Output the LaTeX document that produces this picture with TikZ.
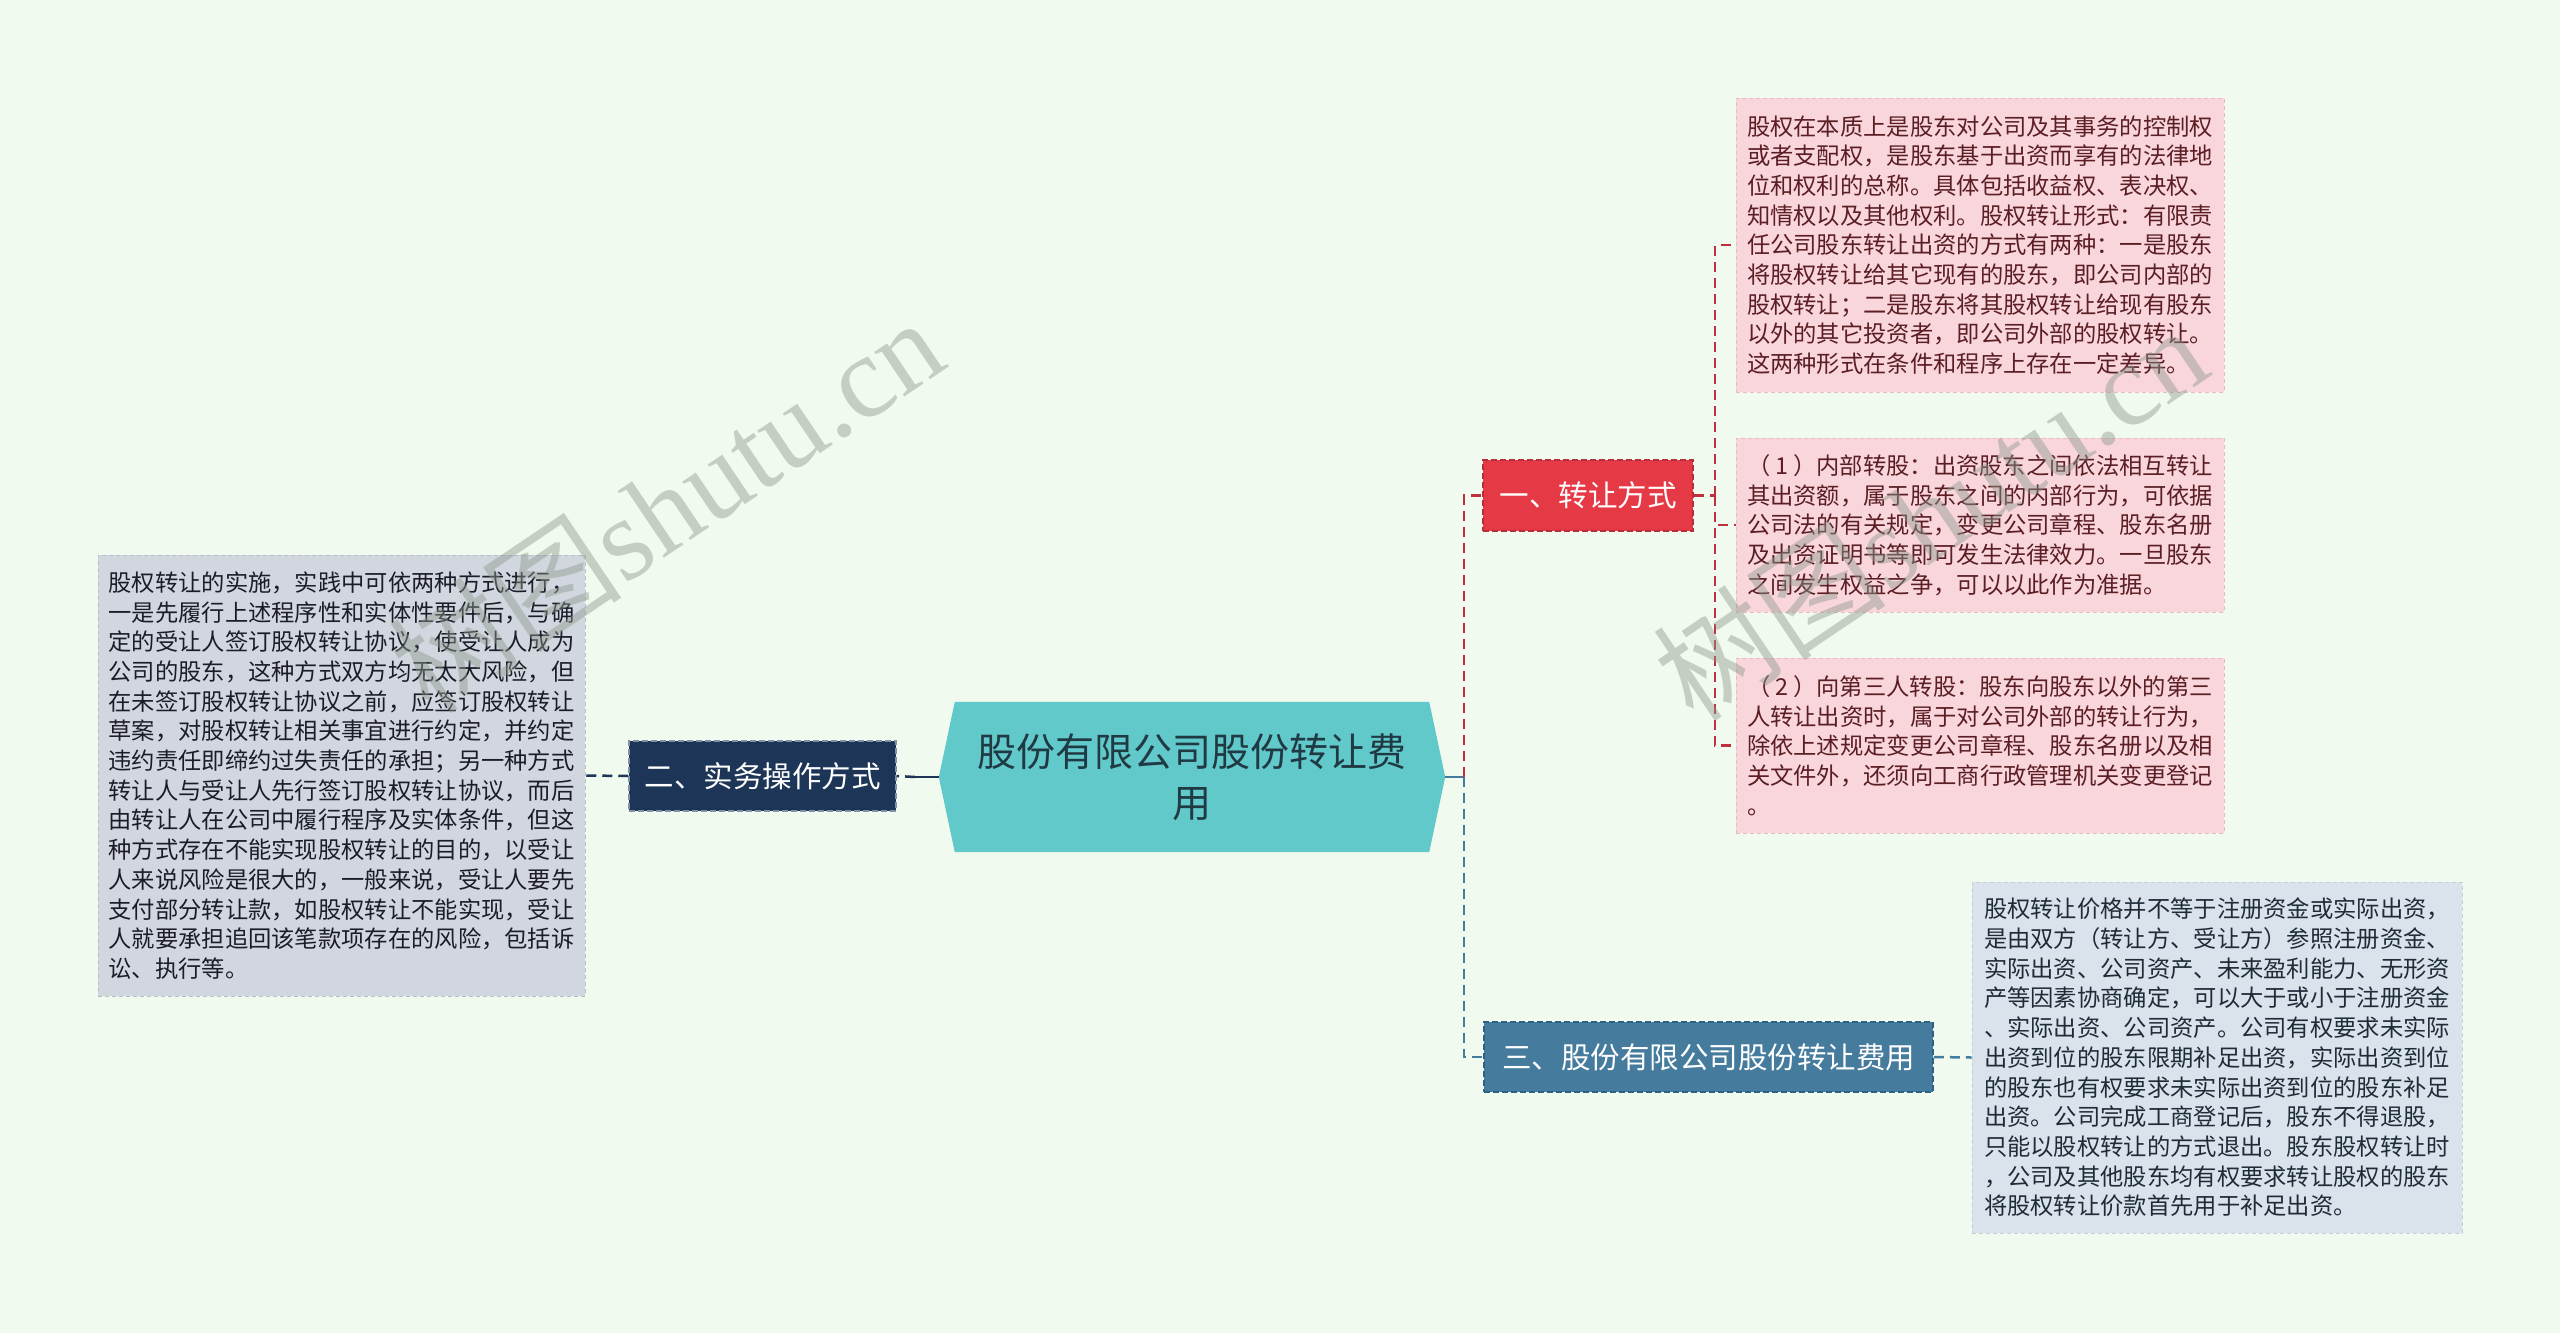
\documentclass[tikz,border=0pt]{standalone}
\usepackage{fontspec}
\setmainfont{Noto Sans CJK SC}
\newfontfamily\wmfont{Liberation Serif}
\usetikzlibrary{calc}
\pgfdeclarelayer{background}
\pgfsetlayers{background,main}
\definecolor{bg}{HTML}{F1FAEE}
\definecolor{rootfill}{HTML}{62C9CB}
\definecolor{roottext}{HTML}{203A44}
\definecolor{redfill}{HTML}{E63946}
\definecolor{rededge}{HTML}{B52E3A}
\definecolor{navyfill}{HTML}{1D3557}
\definecolor{navyedge}{HTML}{8391A6}
\definecolor{steelfill}{HTML}{457B9D}
\definecolor{steeledge}{HTML}{2E6283}
\definecolor{redline}{HTML}{C0303C}
\definecolor{pinkfill}{HTML}{F9D6DB}
\definecolor{pinkedge}{HTML}{EDB9C1}
\definecolor{pinktext}{HTML}{5A1E24}
\definecolor{bluefill}{HTML}{DAE3EB}
\definecolor{blueedge}{HTML}{C2D0DC}
\definecolor{bluetext}{HTML}{1E2B38}
\definecolor{grayfill}{HTML}{D2D7DF}
\definecolor{grayedge}{HTML}{B8BFCB}
\definecolor{graytext}{HTML}{1C1C28}
\definecolor{wmcolor}{HTML}{8E9A8E}
\tikzset{
  leaf/.style={rectangle, align=left, inner sep=0pt, line width=1pt,
    dash pattern=on 4pt off 3pt, font=\fontsize{23.3pt}{29.7pt}\selectfont},
  pinkleaf/.style={leaf, fill=pinkfill, draw=pinkedge, text=pinktext},
  blueleaf/.style={leaf, fill=bluefill, draw=blueedge, text=bluetext},
  grayleaf/.style={leaf, fill=grayfill, draw=grayedge, text=graytext},
  branchbox/.style={rectangle, inner sep=0pt, text=white, line width=1.5pt,
    dash pattern=on 6pt off 3pt, font=\fontsize{29.5pt}{34pt}\selectfont},
  link/.style={line width=2.5pt, dash pattern=on 10pt off 6pt},
  solidlink/.style={line width=2.5pt},
  wm/.style={text=wmcolor, opacity=0.45, font=\fontsize{117pt}{120pt}\selectfont, inner sep=0pt}
}
\begin{document}
\begin{tikzpicture}[x=1pt,y=-1pt]
\useasboundingbox (0,0) rectangle (2560,1333);

% root
\node[inner sep=0pt, minimum width=506pt, minimum height=150pt, align=center,
  text=roottext, font=\fontsize{39pt}{50.6pt}\selectfont] (root) at (1192,777)
  {股份有限公司股份转让费\\用};
\begin{pgfonlayer}{background}
\fill[bg] (0,0) rectangle (2560,1333);
\fill[rootfill] (root.west) -- ([xshift=16pt]root.north west) -- ([xshift=-16pt]root.north east)
  -- (root.east) -- ([xshift=-16pt]root.south east) -- ([xshift=16pt]root.south west) -- cycle;
\end{pgfonlayer}

% branches
\node[branchbox, fill=redfill, draw=rededge, minimum width=210pt, minimum height=71pt] (b1) at (1588,495.5) {一、转让方式};
\node[branchbox, fill=navyfill, draw=navyedge, minimum width=267pt, minimum height=70pt] (b2) at (762.5,776) {二、实务操作方式};
\node[branchbox, fill=steelfill, draw=steeledge, minimum width=449pt, minimum height=70pt] (b3) at (1708.5,1057) {三、股份有限公司股份转让费用};

% leaves
\node[pinkleaf, minimum width=488pt, minimum height=294pt] (l1) at (1980,245) {股权在本质上是股东对公司及其事务的控制权\\或者支配权，是股东基于出资而享有的法律地\\位和权利的总称。具体包括收益权、表决权、\\知情权以及其他权利。股权转让形式：有限责\\任公司股东转让出资的方式有两种：一是股东\\将股权转让给其它现有的股东，即公司内部的\\股权转让；二是股东将其股权转让给现有股东\\以外的其它投资者，即公司外部的股权转让。\\这两种形式在条件和程序上存在一定差异。};
\node[pinkleaf, minimum width=488pt, minimum height=174pt] (l2) at (1980,525) {（\hspace{5pt}1\hspace{5pt}）内部转股：出资股东之间依法相互转让\\其出资额，属于股东之间的内部行为，可依据\\公司法的有关规定，变更公司章程、股东名册\\及出资证明书等即可发生法律效力。一旦股东\\之间发生权益之争，可以以此作为准据。};
\node[pinkleaf, minimum width=488pt, minimum height=175pt] (l3) at (1980,745.5) {（\hspace{5pt}2\hspace{5pt}）向第三人转股：股东向股东以外的第三\\人转让出资时，属于对公司外部的转让行为，\\除依上述规定变更公司章程、股东名册以及相\\关文件外，还须向工商行政管理机关变更登记\\。};
\node[blueleaf, minimum width=490pt, minimum height=351pt] (l4) at (2217,1057.5) {股权转让价格并不等于注册资金或实际出资，\\是由双方（转让方、受让方）参照注册资金、\\实际出资、公司资产、未来盈利能力、无形资\\产等因素协商确定，可以大于或小于注册资金\\、实际出资、公司资产。公司有权要求未实际\\出资到位的股东限期补足出资，实际出资到位\\的股东也有权要求未实际出资到位的股东补足\\出资。公司完成工商登记后，股东不得退股，\\只能以股权转让的方式退出。股东股权转让时\\，公司及其他股东均有权要求转让股权的股东\\将股权转让价款首先用于补足出资。};
\node[grayleaf, minimum width=487pt, minimum height=441pt] (l5) at (341.5,775.5) {股权转让的实施，实践中可依两种方式进行，\\一是先履行上述程序性和实体性要件后，与确\\定的受让人签订股权转让协议，使受让人成为\\公司的股东，这种方式双方均无太大风险，但\\在未签订股权转让协议之前，应签订股权转让\\草案，对股权转让相关事宜进行约定，并约定\\违约责任即缔约过失责任的承担；另一种方式\\转让人与受让人先行签订股权转让协议，而后\\由转让人在公司中履行程序及实体条件，但这\\种方式存在不能实现股权转让的目的，以受让\\人来说风险是很大的，一般来说，受让人要先\\支付部分转让款，如股权转让不能实现，受让\\人就要承担追回该笔款项存在的风险，包括诉\\讼、执行等。};

% connectors
\coordinate (rj) at (1464,777);
\coordinate (lj) at (915,777);
\coordinate (b1j) at (1715,495.5);
\draw[solidlink, steelfill] (root.east) -- (rj);
\draw[link, redline] (rj) |- (b1.west);
\draw[link, steelfill] (rj) |- (b3.west);
\draw[solidlink, navyfill] (root.west) -- (lj);
\draw[link, navyfill] (lj) -- (b2.east);
\draw[link, navyfill] (b2.west) -- (l5.east);
\draw[link, redline] (b1.east) -- (b1j);
\draw[link, redline] (b1j) |- (l1.west);
\draw[link, redline] (b1j) |- (l2.west);
\draw[link, redline] (b1j) |- (l3.west);
\draw[link, steelfill] (b3.east) -- (l4.west);

% watermarks
\node[wm, rotate=34] (wm1) at (666,504) {树图\wmfont shutu.cn};
\node[wm, rotate=34] (wm2) at (1930,512) {树图\wmfont shutu.cn};
\end{tikzpicture}
\end{document}
